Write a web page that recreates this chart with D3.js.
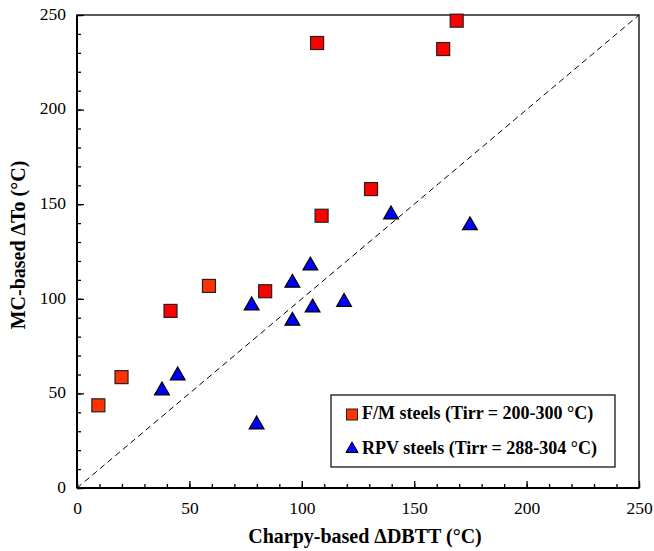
<!DOCTYPE html>
<html>
<head>
<meta charset="utf-8">
<script src="https://cdnjs.cloudflare.com/ajax/libs/d3/7.8.5/d3.min.js"></script>
<style>
  body { margin: 0; background: #fff; }
  text { font-family: "Liberation Serif", "Times New Roman", serif; }
</style>
</head>
<body>
<div id="chart"></div>
<script>
// data: [Charpy dDBTT, MC dTo]
var fmOrange = [[9.5, 43.7], [19.8, 58.6], [58.7, 106.8]];
var fmRed = [[41.6, 93.6], [83.7, 104], [106.8, 235.2], [108.8, 143.9],
  [130.8, 158], [162.9, 232], [168.9, 247]];
var rpv = [[37.8, 51.5], [44.8, 59.4], [77.7, 96.4], [79.9, 33.5], [95.8, 108.4],
  [95.8, 88.3], [103.8, 117.5], [104.8, 95.3], [118.8, 98.3], [139.7, 144.5], [174.8, 138.8]];
var legendLabels = ["F/M steels (Tirr = 200-300 \u00B0C)", "RPV steels (Tirr = 288-304 \u00B0C)"];
var majorTicks = [0, 50, 100, 150, 200, 250];

var svgWidth = 654;
var svgHeight = 551;
var margin = { top: 15, right: 15, bottom: 63, left: 77 };
var width = 639 - margin.left;
var height = 488 - margin.top;

var svg = d3.select("#chart").append("svg")
  .attr("width", svgWidth)
  .attr("height", svgHeight);

var g = svg.append("g")
  .attr("transform", `translate(${margin.left}, ${margin.top})`);

var x = d3.scaleLinear().domain([0, 250]).range([0, width]);
var y = d3.scaleLinear().domain([0, 250]).range([height, 0]);

var minor = d3.range(0, 251, 10);

// minor ticks (inward)
g.append("g")
  .attr("transform", `translate(0, ${height})`)
  .call(d3.axisTop(x).tickValues(minor).tickSize(4).tickFormat(""))
  .call(a => a.select(".domain").remove());
g.append("g")
  .call(d3.axisRight(y).tickValues(minor).tickSize(4).tickFormat(""))
  .call(a => a.select(".domain").remove());

// major ticks (inward) + labels
var xAxis = g.append("g")
  .attr("transform", `translate(0, ${height})`)
  .call(d3.axisBottom(x).tickValues(majorTicks).tickSizeInner(-7).tickSizeOuter(0).tickPadding(14));
xAxis.select(".domain").remove();
xAxis.selectAll("text").style("font-size", "17.5px").attr("fill", "#000");

var yAxis = g.append("g")
  .call(d3.axisLeft(y).tickValues(majorTicks).tickSizeInner(-7).tickSizeOuter(0).tickPadding(11));
yAxis.select(".domain").remove();
yAxis.selectAll("text").style("font-size", "17.5px").attr("fill", "#000").attr("dy", "0.25em");

g.selectAll(".tick line").attr("stroke", "#000").attr("stroke-width", 1.3);

// frame
g.append("rect")
  .attr("width", width).attr("height", height)
  .attr("fill", "none").attr("stroke", "#000").attr("stroke-width", 1.3);
g.append("line").attr("x1", 0).attr("x2", 0).attr("y1", 0).attr("y2", height)
  .attr("stroke", "#000").attr("stroke-width", 2);
g.append("line").attr("x1", 0).attr("x2", width).attr("y1", height).attr("y2", height)
  .attr("stroke", "#000").attr("stroke-width", 2);

// 1:1 line
g.append("line")
  .attr("x1", x(0)).attr("y1", y(0)).attr("x2", x(250)).attr("y2", y(250))
  .attr("stroke", "#000").attr("stroke-width", 1).attr("stroke-dasharray", "6,4");

var sq = 13;
function squares(data, color) {
  g.selectAll(null).data(data).enter().append("rect")
    .attr("x", d => x(d[0]) - sq / 2)
    .attr("y", d => y(d[1]) - sq / 2)
    .attr("width", sq).attr("height", sq)
    .attr("fill", color).attr("stroke", "#222").attr("stroke-width", 1.2);
}
squares(fmOrange, "#ff3300");
squares(fmRed, "#ff0000");

var tri = d3.symbol().type(d3.symbolTriangle).size(95);
g.selectAll(".tri").data(rpv).enter().append("path")
  .attr("d", tri)
  .attr("transform", d => `translate(${x(d[0])}, ${y(d[1])})`)
  .attr("fill", "#0000ff").attr("stroke", "#000").attr("stroke-width", 1.2);

// legend
var lg = svg.append("g").attr("transform", "translate(331, 395)");
lg.append("rect").attr("width", 284).attr("height", 72)
  .attr("fill", "#fff").attr("stroke", "#000").attr("stroke-width", 1.2);
lg.append("rect").attr("x", 15.5).attr("y", 14).attr("width", 11).attr("height", 11)
  .attr("fill", "#ff3300").attr("stroke", "#222").attr("stroke-width", 1);
lg.append("path")
  .attr("d", d3.symbol().type(d3.symbolTriangle).size(65))
  .attr("transform", "translate(21, 54)")
  .attr("fill", "#0000ff").attr("stroke", "#000").attr("stroke-width", 1);
lg.selectAll(".lt").data(legendLabels).enter().append("text")
  .attr("x", 31)
  .attr("y", (d, i) => 24 + i * 35)
  .style("font-size", "18px").style("font-weight", "bold")
  .text(d => d);

// axis titles
svg.append("text")
  .attr("x", 365).attr("y", 543)
  .attr("text-anchor", "middle")
  .style("font-size", "20px").style("font-weight", "bold")
  .text("Charpy-based \u0394DBTT (\u00B0C)");

svg.append("text")
  .attr("transform", "translate(25, 245) rotate(-90)")
  .attr("text-anchor", "middle")
  .style("font-size", "20px").style("font-weight", "bold")
  .text("MC-based \u0394To (\u00B0C)");
</script>
</body>
</html>
